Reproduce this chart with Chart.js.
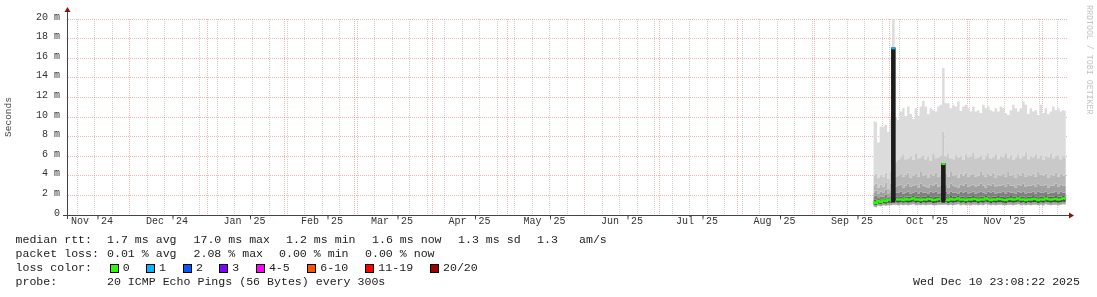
<!DOCTYPE html>
<html>
<head>
<meta charset="utf-8">
<title>smokeping - last 400 days</title>
<script src="https://cdn.jsdelivr.net/npm/chart.js@4.4.1/dist/chart.umd.min.js"></script>
<style>
  body { margin: 0; background: #fff; }
  #wrap { position: relative; width: 1097px; height: 297px; overflow: hidden; background: #fff; }
  #wrap canvas { position: absolute; left: 0; top: 0; }
  .t { position: absolute; font: 11.6px/14px 'Liberation Mono', monospace; color: #222; white-space: pre; }
  .lbox { position: absolute; top: 264px; width: 7px; height: 7px; border: 1px solid #000; }
  #credit { position: absolute; left: 1085px; top: 5px; writing-mode: vertical-rl; font: 8.3px/9px 'Liberation Mono', monospace; color: #c4c4c4; white-space: pre; }
</style>
</head>
<body>
<div id="wrap">
  <canvas id="smoke" width="1097" height="297"></canvas>
  <div id="legend"></div>
  <div id="credit">RRDTOOL / TOBI OETIKER</div>
</div>
<script>
/* ---------- time axis ---------- */
const rangeEnd = '2025-12-10T23:08:22Z';
const rangeDays = 400;
const firstSample = '2025-09-24';          // first day with data
const monthStarts = ['2024-12-01', '2025-01-01', '2025-02-01', '2025-03-01', '2025-04-01', '2025-05-01',
  '2025-06-01', '2025-07-01', '2025-08-01', '2025-09-01', '2025-10-01', '2025-11-01', '2025-12-01'];
const labelMonths = ['2024-11-01', '2024-12-01', '2025-01-01', '2025-02-01', '2025-03-01', '2025-04-01', '2025-05-01',
  '2025-06-01', '2025-07-01', '2025-08-01', '2025-09-01', '2025-10-01', '2025-11-01'];
const monthLabels = ["Nov '24", "Dec '24", "Jan '25", "Feb '25", "Mar '25", "Apr '25", "May '25",
  "Jun '25", "Jul '25", "Aug '25", "Sep '25", "Oct '25", "Nov '25"];
const firstSunday = '2024-11-10';

/* ---------- y axis (ms) ---------- */
const yMajor = [0, 2, 4, 6, 8, 10, 12, 14, 16, 18, 20];
const yLabels = ['0', '2 m', '4 m', '6 m', '8 m', '10 m', '12 m', '14 m', '16 m', '18 m', '20 m'];
const yMinor = [1, 3, 5, 7, 9, 11, 13, 15, 17, 19];

/* ---------- smoke, one value per day (ms) ---------- */
// top of the smoke (max ping)
const pingMax = [
  9.6, 9.5, 7.4, 9.0, 9.0, 9.2, 8.5, 9.8, 20.2, 10.0, 9.7, 10.55, 10.9,
  10.1, 11.06, 10.3, 9.8, 10.9, 10.1, 11.06, 11.64, 11.06, 10.3, 10.9, 10.7, 10.55,
  11.06, 11.24, 15.0, 11.4, 11.4, 10.9, 11.24, 11.06, 11.57, 10.6, 11.06, 11.24, 10.9,
  10.55, 11.06, 10.55, 10.7, 10.4, 11.24, 10.9, 11.06, 10.7, 10.55, 10.9, 10.55, 11.06,
  10.9, 10.4, 10.2, 10.7, 11.24, 10.9, 10.55, 10.9, 11.57, 11.24, 10.3, 10.9, 10.55,
  10.7, 10.2, 11.24, 10.4, 10.9, 10.3, 10.55, 11.06, 10.7, 10.9, 10.55, 10.7, 10.6
];
const ping90 = [
  4.0, 4.2, 3.8, 4.1, 3.9, 4.3, 3.7, 4.4, 4.5, 5.4, 5.6, 5.9, 6.2,
  5.7, 5.8, 6.0, 5.6, 6.3, 5.8, 5.9, 6.1, 5.7, 6.0, 5.5, 6.3, 5.8,
  5.9, 6.1, 8.5, 6.0, 6.3, 5.8, 5.7, 6.1, 5.9, 6.0, 5.6, 6.2, 5.9,
  6.0, 6.4, 5.8, 5.9, 6.1, 5.7, 6.0, 6.3, 5.8, 5.9, 6.2, 5.7, 6.0,
  5.9, 6.3, 5.8, 6.1, 5.6, 5.9, 6.2, 5.8, 6.0, 6.4, 5.7, 6.0, 5.9,
  6.2, 5.8, 6.1, 5.6, 6.0, 5.9, 6.3, 5.8, 6.0, 6.1, 5.7, 6.0, 5.9
];
const ping80 = [
  3.0, 3.2, 2.8, 3.1, 2.9, 3.3, 2.7, 3.2, 3.3, 3.9, 4.0, 4.2, 3.9,
  4.1, 4.3, 3.8, 4.0, 4.2, 3.9, 4.4, 4.0, 4.1, 3.8, 4.2, 4.0, 4.3,
  3.9, 4.1, 4.0, 4.2, 3.9, 4.4, 4.0, 4.1, 3.8, 4.2, 4.0, 4.3, 3.9,
  4.1, 4.2, 3.9, 4.0, 4.4, 4.1, 3.9, 4.2, 4.0, 4.3, 3.8, 4.1, 4.0,
  4.2, 3.9, 4.4, 4.0, 4.1, 3.8, 4.2, 4.0, 4.3, 3.9, 4.1, 4.0, 4.2,
  3.9, 4.4, 4.1, 4.0, 4.2, 3.8, 4.1, 4.0, 4.3, 3.9, 4.2, 4.0, 4.1
];
const ping70 = [
  2.3, 2.5, 2.2, 2.4, 2.3, 2.6, 2.2, 2.5, 2.6, 2.9, 3.0, 3.1, 2.8,
  3.0, 3.2, 2.9, 3.0, 3.1, 2.8, 3.2, 3.0, 2.9, 2.8, 3.1, 3.0, 3.2,
  2.9, 3.0, 3.0, 3.1, 2.8, 3.2, 3.0, 2.9, 2.8, 3.1, 3.0, 3.2, 2.9,
  3.0, 3.1, 2.9, 3.0, 3.2, 3.0, 2.8, 3.1, 3.0, 3.2, 2.9, 3.0, 3.0,
  3.1, 2.9, 3.2, 3.0, 3.0, 2.8, 3.1, 3.0, 3.2, 2.9, 3.0, 3.0, 3.1,
  2.9, 3.2, 3.0, 3.0, 3.1, 2.8, 3.0, 3.0, 3.2, 2.9, 3.1, 3.0, 3.0
];
const ping60 = [
  1.9, 2.0, 1.8, 1.9, 1.9, 2.1, 1.8, 2.0, 2.1, 2.3, 2.3, 2.4, 2.2,
  2.3, 2.4, 2.2, 2.3, 2.4, 2.2, 2.4, 2.3, 2.3, 2.2, 2.4, 2.3, 2.4,
  2.2, 2.3, 2.3, 2.4, 2.2, 2.4, 2.3, 2.3, 2.2, 2.4, 2.3, 2.4, 2.2,
  2.3, 2.4, 2.2, 2.3, 2.4, 2.3, 2.2, 2.4, 2.3, 2.4, 2.2, 2.3, 2.3,
  2.4, 2.2, 2.4, 2.3, 2.3, 2.2, 2.4, 2.3, 2.4, 2.2, 2.3, 2.3, 2.4,
  2.2, 2.4, 2.3, 2.3, 2.4, 2.2, 2.3, 2.3, 2.4, 2.2, 2.4, 2.3, 2.3
];
const ping55 = [
  1.6, 1.55, 1.7, 1.6, 1.7, 1.65, 1.75, 1.7, 1.8, 1.85, 1.8, 1.85, 1.8,
  1.9, 1.85, 1.9, 1.95, 1.85, 1.9, 1.8, 1.9, 1.85, 1.95, 1.9, 1.8, 1.85,
  1.9, 1.95, 1.9, 1.85, 1.8, 1.95, 1.85, 1.9, 1.95, 1.85, 1.9, 1.8, 1.9,
  1.85, 1.95, 1.9, 1.8, 1.9, 1.85, 1.95, 1.9, 1.8, 1.9, 1.85, 1.95, 1.9,
  1.85, 1.8, 1.9, 1.95, 1.85, 1.9, 1.95, 1.85, 1.9, 1.8, 1.9, 1.85, 1.95,
  1.9, 1.8, 1.9, 1.85, 1.95, 1.9, 1.85, 1.9, 1.95, 1.85, 1.9, 1.95, 1.9
];
const median = [
  1.3, 1.2, 1.45, 1.3, 1.5, 1.4, 1.55, 1.5, 17.0, 1.6, 1.55, 1.6, 1.5,
  1.65, 1.55, 1.6, 1.7, 1.55, 1.6, 1.5, 1.6, 1.55, 1.65, 1.6, 1.5, 1.55,
  1.6, 1.65, 5.2, 1.6, 1.5, 1.65, 1.55, 1.6, 1.7, 1.55, 1.6, 1.5, 1.6,
  1.55, 1.65, 1.6, 1.5, 1.6, 1.55, 1.7, 1.6, 1.5, 1.6, 1.55, 1.65, 1.6,
  1.55, 1.5, 1.6, 1.65, 1.55, 1.6, 1.7, 1.55, 1.6, 1.5, 1.6, 1.55, 1.65,
  1.6, 1.5, 1.6, 1.55, 1.7, 1.6, 1.55, 1.6, 1.65, 1.55, 1.6, 1.7, 1.65
];
const ping30 = [
  1.05, 1.0, 1.15, 1.1, 1.2, 1.15, 1.25, 1.2, 1.3, 1.3, 1.25, 1.3, 1.25,
  1.3, 1.25, 1.3, 1.35, 1.25, 1.3, 1.2, 1.3, 1.25, 1.3, 1.3, 1.2, 1.25,
  1.3, 1.3, 1.3, 1.3, 1.2, 1.3, 1.25, 1.3, 1.35, 1.25, 1.3, 1.2, 1.3,
  1.25, 1.3, 1.3, 1.2, 1.3, 1.25, 1.35, 1.3, 1.2, 1.3, 1.25, 1.3, 1.3,
  1.25, 1.2, 1.3, 1.3, 1.25, 1.3, 1.35, 1.25, 1.3, 1.2, 1.3, 1.25, 1.3,
  1.3, 1.2, 1.3, 1.25, 1.35, 1.3, 1.25, 1.3, 1.3, 1.25, 1.3, 1.35, 1.3
];
const pingMin = [
  0.85, 0.8, 0.95, 0.9, 1.0, 0.95, 1.0, 1.0, 1.05, 1.05, 1.0, 1.05, 1.0,
  1.05, 1.0, 1.05, 1.1, 1.0, 1.05, 1.0, 1.05, 1.0, 1.05, 1.05, 1.0, 1.0,
  1.05, 1.05, 1.05, 1.05, 1.0, 1.05, 1.0, 1.05, 1.1, 1.0, 1.05, 1.0, 1.05,
  1.0, 1.05, 1.05, 1.0, 1.05, 1.0, 1.1, 1.05, 1.0, 1.05, 1.0, 1.05, 1.05,
  1.0, 1.0, 1.05, 1.05, 1.0, 1.05, 1.1, 1.0, 1.05, 1.0, 1.05, 1.0, 1.05,
  1.05, 1.0, 1.05, 1.0, 1.1, 1.05, 1.0, 1.05, 1.05, 1.0, 1.05, 1.1, 1.05
];
// lost pings (of 20) per day
const lost = [
  0, 0, 0, 0, 0, 0, 0, 0, 1, 0, 0, 0, 0,
  0, 0, 0, 0, 0, 0, 0, 0, 0, 0, 0, 0, 0,
  0, 0, 0, 0, 0, 0, 0, 0, 0, 0, 0, 0, 0,
  0, 0, 0, 0, 0, 0, 0, 0, 0, 0, 0, 0, 0,
  0, 0, 0, 0, 0, 0, 0, 0, 0, 0, 0, 0, 0,
  0, 0, 0, 0, 0, 0, 0, 0, 0, 0, 0, 0, 0
];

/* ---------- legend ---------- */
const lossLabels = ['0', '1', '2', '3', '4-5', '6-10', '11-19', '20/20'];
const lossColors = ['#26ff00', '#00b8ff', '#0059ff', '#7e00ff', '#ff00ff', '#ff5500', '#ff0000', '#a10000'];
const rttItems = ['median rtt:', '1.7 ms avg', '17.0 ms max', '1.2 ms min', '1.6 ms now', '1.3 ms sd', '1.3', 'am/s'];
const lossItems = ['packet loss:', '0.01 % avg', '2.08 % max', '0.00 % min', '0.00 % now'];
const probeItems = ['probe:', '20 ICMP Echo Pings (56 Bytes) every 300s'];
const stamp = 'Wed Dec 10 23:08:22 2025';

/* ---------- helpers ---------- */
const EPOCH = Date.parse('2024-11-01T00:00:00Z');
const dayOf = s => (Date.parse(s.length > 10 ? s : s + 'T00:00:00Z') - EPOCH) / 864e5;
const xMax = dayOf(rangeEnd);
const xMin = xMax - rangeDays;
const x0 = dayOf(firstSample);
const pts = arr => arr.map((v, i) => ({ x: x0 + i + 0.5, y: v }));
const lossBucket = n => n === 0 ? 0 : n === 1 ? 1 : n === 2 ? 2 : n === 3 ? 3 : n <= 5 ? 4 : n <= 10 ? 5 : n < 20 ? 6 : 7;

const RED = 'rgba(235,90,90,0.45)';
const GRAY = 'rgba(150,150,150,0.45)';
const SPIKE = '#1c1c1c';

// x ticks: weekly (minor grid), month start (major grid), mid-month (label only)
const xTicks = [];
const majors = monthStarts.map(dayOf).filter(d => d > xMin && d < xMax);
for (let d = dayOf(firstSunday); d < xMax; d += 7) {
  if (d > xMin && !majors.includes(d)) xTicks.push({ value: d, kind: 'minor', label: '' });
}
majors.forEach(d => xTicks.push({ value: d, kind: 'major', label: '' }));
labelMonths.forEach((m, i) => {
  const d = dayOf(m) + 15;
  if (d > xMin && d < xMax) xTicks.push({ value: d, kind: 'label', label: monthLabels[i] });
});
xTicks.sort((a, b) => a.value - b.value);

const yTicks = yMajor.concat(yMinor).sort((a, b) => a - b);

const band = (arr, color, fill) => ({
  type: 'line', data: pts(arr), backgroundColor: color, borderColor: 'rgba(0,0,0,0)',
  borderWidth: 0, pointRadius: 0, stepped: 'middle', fill
});

const spikeIdx = median.map((v, i) => v > 3 ? i : -1).filter(i => i >= 0);

const datasets = [
  { // loss colour at the top of each spike
    type: 'line', showLine: false,
    data: spikeIdx.map(i => ({ x: x0 + i + 0.5, y: median[i] })),
    pointStyle: 'line', pointRadius: 2, pointBorderWidth: 2,
    pointBorderColor: spikeIdx.map(i => lossColors[lossBucket(lost[i])])
  },
  { // median jumps
    type: 'bar',
    data: spikeIdx.map(i => ({ x: x0 + i + 0.5, y: [ping30[i], median[i]] })),
    backgroundColor: SPIKE, barThickness: 3
  },
  { // median rtt
    type: 'line', data: pts(median), borderColor: lossColors[0], borderWidth: 2,
    pointRadius: 0, stepped: 'middle', fill: false,
    segment: { borderColor: c => Math.abs(c.p1.parsed.y - c.p0.parsed.y) > 2 ? SPIKE : undefined }
  },
  band(pingMax, '#dcdcdc', '+1'),
  band(ping90, '#c9c9c9', '+1'),
  band(ping80, '#b6b6b6', '+1'),
  band(ping70, '#a0a0a0', '+1'),
  band(ping60, '#808080', '+1'),
  band(ping55, '#5f5f5f', 2),
  band(ping30, '#474747', 2),
  band(pingMin, '#a5a5a5', '-1')
];

const axisArrows = {
  id: 'axisArrows',
  afterDraw(chart) {
    const { ctx, chartArea: a } = chart;
    const yb = a.bottom + 0.5, xl = a.left + 0.5;
    ctx.save();
    ctx.strokeStyle = '#444';
    ctx.lineWidth = 1;
    ctx.beginPath();
    ctx.moveTo(a.left - 4, yb); ctx.lineTo(a.right + 2, yb);
    ctx.moveTo(xl, a.bottom + 4); ctx.lineTo(xl, a.top - 7);
    ctx.stroke();
    ctx.fillStyle = '#8f1212';
    ctx.beginPath();
    ctx.moveTo(a.right + 7, yb); ctx.lineTo(a.right + 2, yb - 3); ctx.lineTo(a.right + 2, yb + 3);
    ctx.fill();
    ctx.beginPath();
    ctx.moveTo(xl, a.top - 12); ctx.lineTo(xl - 3, a.top - 7); ctx.lineTo(xl + 3, a.top - 7);
    ctx.fill();
    ctx.restore();
  }
};

Chart.defaults.font.family = "'Liberation Mono', monospace";
Chart.defaults.font.size = 10;
Chart.defaults.color = '#333';

new Chart(document.getElementById('smoke'), {
  type: 'line',
  data: { datasets },
  options: {
    responsive: false,
    animation: false,
    devicePixelRatio: 1,
    layout: { padding: { left: 0, top: 19, right: 30, bottom: 62 } },
    plugins: { legend: { display: false }, tooltip: { enabled: false } },
    scales: {
      x: {
        type: 'linear', min: xMin, max: xMax, z: 1, offset: false,
        afterBuildTicks: s => { s.ticks = xTicks.map(t => ({ value: t.value })); },
        afterFit: s => { s.height = 20; },
        grid: {
          drawTicks: false, lineWidth: 1, offset: false,
          color: c => {
            const t = xTicks[c.index];
            return !t || t.kind === 'label' ? 'rgba(0,0,0,0)' : t.kind === 'major' ? RED : GRAY;
          }
        },
        border: { color: '#444', dash: [1, 1] },
        ticks: {
          autoSkip: false, maxRotation: 0, minRotation: 0, padding: 0,
          callback: (v, i) => (xTicks[i] ? xTicks[i].label : '')
        }
      },
      y: {
        type: 'linear', min: 0, max: 20, z: 1,
        afterBuildTicks: s => { s.ticks = yTicks.map(v => ({ value: v })); },
        afterFit: s => { s.width = 67; },
        grid: { drawTicks: false, lineWidth: 1, color: c => (yMajor.includes(c.tick.value) ? RED : GRAY) },
        border: { color: '#444', dash: [1, 1] },
        ticks: {
          padding: 7, labelOffset: -2,
          callback: v => { const k = yMajor.indexOf(v); return k >= 0 ? yLabels[k] : ''; }
        },
        title: {
          display: true, text: 'Seconds', color: '#444',
          font: { size: 9.5 }, padding: { top: 2.5, bottom: 0 }
        }
      }
    }
  },
  plugins: [axisArrows]
});

/* ---------- text legend below the graph ---------- */
const legend = document.getElementById('legend');
const put = (text, left, top) => {
  const s = document.createElement('span');
  s.className = 't';
  s.textContent = text;
  s.style.left = left + 'px';
  s.style.top = top + 'px';
  legend.appendChild(s);
  return s;
};
[15.5, 107, 193.5, 286, 372, 458, 537, 579].forEach((x, i) => put(rttItems[i], x, 233));
[15.5, 107, 193.5, 279, 365].forEach((x, i) => put(lossItems[i], x, 247));
put('loss color:', 15.5, 261);
[109.8, 146.1, 182.9, 219.2, 255.9, 307.3, 365.3, 430].forEach((x, i) => {
  const b = document.createElement('span');
  b.className = 'lbox';
  b.style.left = x + 'px';
  b.style.background = lossColors[i];
  legend.appendChild(b);
  put(lossLabels[i], x + 13, 261);
});
put(probeItems[0], 15.5, 275);
put(probeItems[1], 107, 275);
put(stamp, 913, 275);
</script>
</body>
</html>
